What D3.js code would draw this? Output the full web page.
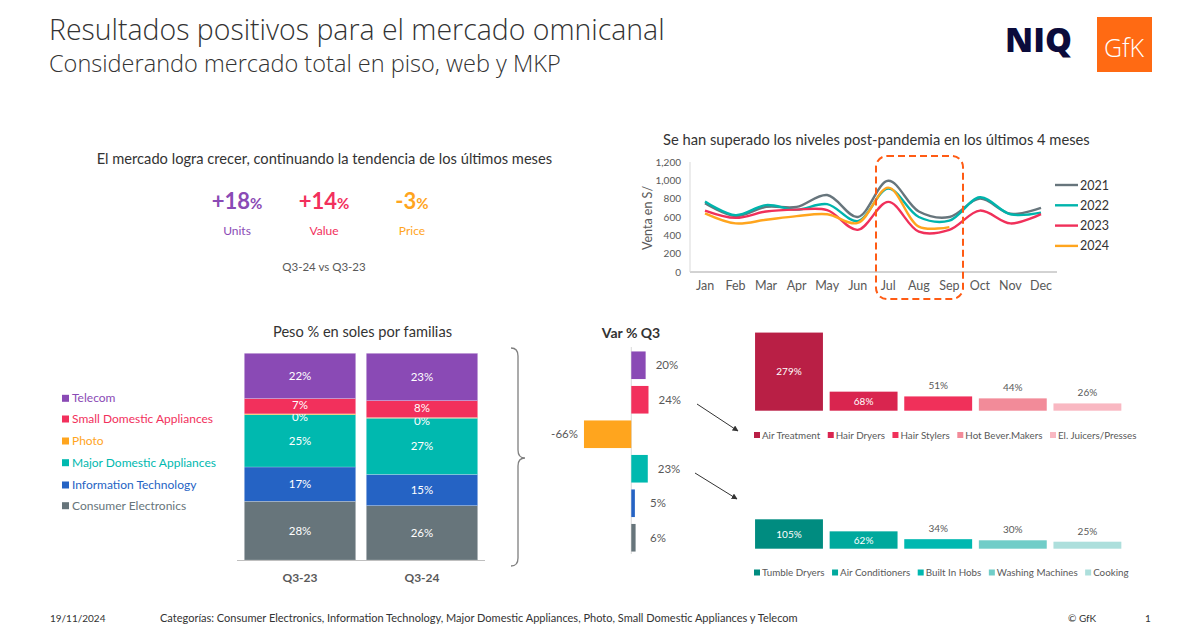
<!DOCTYPE html>
<html><head><meta charset="utf-8">
<script src="https://cdn.jsdelivr.net/npm/d3@7"></script>
<style>body{margin:0;background:#fff}svg{display:block}text{font-family:Lato,"Open Sans",sans-serif}</style>
</head><body><svg id="c" width="1200" height="628"></svg>
<script>
// ---------- DATA ----------
const months = ["Jan","Feb","Mar","Apr","May","Jun","Jul","Aug","Sep","Oct","Nov","Dec"];
const years = ["2021","2022","2023","2024"];
const sales2021 = [750,610,710,710,840,600,995,660,600,800,635,700];
const sales2022 = [770,620,730,680,740,555,910,600,560,815,630,648];
const sales2023 = [670,590,660,680,675,460,765,440,460,670,530,632];
const sales2024 = [640,530,570,610,630,535,920,495,490];
const yTicks = [0,200,400,600,800,1000,1200];

const kpiLabels = ["Units","Value","Price"];
const kpiValues = ["+18","+14","-3"];

const families = ["Telecom","Small Domestic Appliances","Photo","Major Domestic Appliances","Information Technology","Consumer Electronics"];
const periods = ["Q3-23","Q3-24"];
const shareQ323 = [21.9,7.4,0.4,25.3,16.6,28.4];
const shareQ324 = [22.9,8.2,0.3,27.2,15.1,26.3];
const varQ3 = [20,24,-66,23,5,6];

const sdaCats = ["Air Treatment","Hair Dryers","Hair Stylers","Hot Bever.Makers","El. Juicers/Presses"];
const sdaVals = [279,68,51,44,26];
const mdaCats = ["Tumble Dryers","Air Conditioners","Built In Hobs","Washing Machines","Cooking"];
const mdaVals = [105,62,34,30,25];

// ---------- STYLE ----------
const famColors = ["#8A4AB5","#F2305C","#FFA51E","#00B9AF","#2563C4","#67757B"];
const yearColors = ["#67757C","#00B4AC","#F0305A","#FFA51E"];
const kpiColors = ["#8A4AB5","#F2305C","#FFA51E"];
const sdaColors = ["#B91F45","#D9254F","#F0305A","#F28B99","#F9B8C2"];
const mdaColors = ["#008C80","#00A99D","#00B8B0","#70CDC8","#ADDFDC"];

const svg = d3.select("#c");
function fit(sel, w){ const l = sel.node().getComputedTextLength(); const fs = parseFloat(sel.attr("font-size")); sel.attr("font-size", fs*w/l); return sel; }

// ---------- HEADER ----------
fit(svg.append("text").attr("x",49).attr("y",40).attr("font-size",27).attr("font-weight",300).attr("fill","#333")
  .style("font-family","'Open Sans',Lato,sans-serif").text("Resultados positivos para el mercado omnicanal"),616);
fit(svg.append("text").attr("x",49).attr("y",72).attr("font-size",21).attr("font-weight",300).attr("fill","#333")
  .style("font-family","'Open Sans',Lato,sans-serif").text("Considerando mercado total en piso, web y MKP"),512);
// logos
fit(svg.append("text").attr("x",1005).attr("y",52).attr("font-size",30).attr("font-weight",800).attr("fill","#0B0B3B")
  .style("font-family","'Open Sans',Lato,sans-serif").text("NIQ"),67);
svg.append("rect").attr("x",1097).attr("y",17).attr("width",55).attr("height",55).attr("fill","#FF6A13");
svg.append("text").attr("x",1124).attr("y",57).attr("text-anchor","middle").attr("font-size",25).attr("font-weight",300)
  .attr("fill","#fff").style("font-family","'Open Sans',sans-serif").text("GfK");

// ---------- KPI ----------
fit(svg.append("text").attr("x",96.7).attr("y",164).attr("font-size",14).attr("fill","#333").text("El mercado logra crecer, continuando la tendencia de los últimos meses"),456);
const kx = [237,324,412];
kpiValues.forEach((v,i)=>{
  const t = svg.append("text").attr("x",kx[i]).attr("y",209).attr("text-anchor","middle").attr("fill",kpiColors[i]).attr("font-weight",700);
  t.append("tspan").attr("font-size",22).text(v);
  t.append("tspan").attr("font-size",15).text("%");
  svg.append("text").attr("x",kx[i]).attr("y",235).attr("text-anchor","middle").attr("font-size",12).attr("fill",kpiColors[i]).text(kpiLabels[i]);
});
svg.append("text").attr("x",324).attr("y",271).attr("text-anchor","middle").attr("font-size",11.5).attr("fill","#595959").text("Q3-24 vs Q3-23");

// ---------- LINE CHART ----------
fit(svg.append("text").attr("x",663).attr("y",145).attr("font-size",15).attr("fill","#333").text("Se han superado los niveles post-pandemia en los últimos 4 meses"),427);
const lx = d3.scalePoint().domain(months).range([705,1041]);
const ly = d3.scaleLinear().domain([0,1200]).range([272,162]);
svg.append("line").attr("x1",690).attr("x2",1057).attr("y1",272).attr("y2",272).attr("stroke","#a6a6a6");
svg.append("line").attr("x1",690).attr("x2",690).attr("y1",162).attr("y2",272).attr("stroke","#d9d9d9");
svg.append("g").selectAll("text").data(yTicks).join("text").attr("x",681).attr("y",d=>ly(d)+3.5).attr("text-anchor","end")
  .attr("font-size",10).attr("fill","#595959").text(d=>d3.format(",")(d));
svg.append("g").selectAll("text").data(months).join("text").attr("x",d=>lx(d)).attr("y",290).attr("text-anchor","middle")
  .attr("font-size",12.5).attr("fill","#595959").text(d=>d);
svg.append("text").attr("transform","translate(652,218) rotate(-90)").attr("text-anchor","middle").attr("font-size",12.5).attr("fill","#595959").text("Venta en S/");
const series = [sales2021,sales2022,sales2023,sales2024];
const line = d3.line().x((d,i)=>lx(months[i])).y(d=>ly(d)).curve(d3.curveCatmullRom.alpha(0.5));
series.forEach((s,i)=>{
  svg.append("path").attr("d",line(s)).attr("fill","none").attr("stroke",yearColors[i]).attr("stroke-width",2.4);
});
// highlight box
svg.append("rect").attr("x",876).attr("y",156).attr("width",87).attr("height",143).attr("rx",11)
  .attr("fill","none").attr("stroke","#FF5B14").attr("stroke-width",2).attr("stroke-dasharray","7,4");
years.forEach((y,i)=>{
  const yy = 185+i*20.3;
  svg.append("line").attr("x1",1055).attr("x2",1078).attr("y1",yy).attr("y2",yy).attr("stroke",yearColors[i]).attr("stroke-width",2.4);
  svg.append("text").attr("x",1080).attr("y",yy+4.5).attr("font-size",12.5).attr("fill","#333").text(y);
});

// ---------- STACKED BARS ----------
fit(svg.append("text").attr("x",273).attr("y",337).attr("font-size",14).attr("fill","#333").text("Peso % en soles por familias"),179);
const sx = d3.scaleBand().domain(periods).range([237,485]).paddingInner(0.087).paddingOuter(0.06);
const sy = d3.scaleLinear().domain([0,100]).range([560,353.3]);
const shares = [shareQ323, shareQ324];
periods.forEach((p,pi)=>{
  let cum = 0;
  const vals = shares[pi];
  const order = [5,4,3,2,1,0];
  order.forEach(fi=>{
    const v = vals[fi];
    const y0 = sy(cum), y1 = sy(cum+v);
    svg.append("rect").attr("x",sx(p)).attr("width",sx.bandwidth()).attr("y",y1).attr("height",y0-y1)
      .attr("fill",famColors[fi]).attr("stroke","#fff").attr("stroke-opacity",0.35).attr("stroke-width",0.6);
    const cy = (y0+y1)/2 + (fi===2 ? 3 : (fi===1 ? -1 : 0));
    svg.append("text").attr("x",sx(p)+sx.bandwidth()/2).attr("y",cy+4).attr("text-anchor","middle")
      .attr("font-size",11.5).attr("fill","#fff").text(Math.round(v)+"%");
    cum += v;
  });
  svg.append("text").attr("x",sx(p)+sx.bandwidth()/2).attr("y",582).attr("text-anchor","middle")
    .attr("font-size",12).attr("font-weight",700).attr("fill","#595959").text(p);
});
svg.append("line").attr("x1",237).attr("x2",485).attr("y1",560.5).attr("y2",560.5).attr("stroke","#bfbfbf");
const legY = [398.3,419,441,462.7,485,505.7];
families.forEach((f,i)=>{
  svg.append("rect").attr("x",62).attr("y",legY[i]-3.5).attr("width",7).attr("height",7).attr("fill",famColors[i]);
  svg.append("text").attr("x",72).attr("y",legY[i]+4).attr("font-size",12).attr("fill",famColors[i]).text(f);
});
// brace
svg.append("path").attr("d","M511,348 Q518,348 518,356 L518,450 Q518,458 525,458 Q518,458 518,466 L518,558 Q518,566 511,566")
  .attr("fill","none").attr("stroke","#7f7f7f").attr("stroke-width",1.3);

// ---------- VAR % Q3 ----------
svg.append("text").attr("x",631).attr("y",338).attr("text-anchor","middle").attr("font-size",14).attr("font-weight",700).attr("fill","#333").text("Var % Q3");
const vx = d3.scaleLinear().domain([-70,30]).range([581.1,652.8]);
const vy = d3.scaleBand().domain(families).range([348,555]).paddingInner(0.2).paddingOuter(0.1);
svg.append("line").attr("x1",vx(0)).attr("x2",vx(0)).attr("y1",347).attr("y2",554).attr("stroke","#d9d9d9");
families.forEach((f,i)=>{
  const v = varQ3[i];
  const x0 = vx(Math.min(0,v)), x1 = vx(Math.max(0,v));
  svg.append("rect").attr("x",x0).attr("width",x1-x0).attr("y",vy(f)).attr("height",vy.bandwidth()).attr("fill",famColors[i]);
  const cy = vy(f)+vy.bandwidth()/2+4;
  if(v>=0) svg.append("text").attr("x",Math.max(x1,640)+10).attr("y",cy).attr("font-size",11.5).attr("fill","#595959").text(v+"%");
  else svg.append("text").attr("x",x0-6).attr("y",cy).attr("text-anchor","end").attr("font-size",11.5).attr("fill","#595959").text(v+"%");
});
// arrows
const defs = svg.append("defs");
defs.append("marker").attr("id","ah").attr("viewBox","0 0 10 10").attr("refX",9).attr("refY",5).attr("markerWidth",6).attr("markerHeight",6).attr("orient","auto")
  .append("path").attr("d","M0,0 L10,5 L0,10 z").attr("fill","#333");
svg.append("line").attr("x1",697).attr("y1",404).attr("x2",738).attr("y2",431).attr("stroke","#333").attr("marker-end","url(#ah)");
svg.append("line").attr("x1",695).attr("y1",473).attr("x2",737).attr("y2",499).attr("stroke","#333").attr("marker-end","url(#ah)");

// ---------- BREAKDOWNS ----------
function breakdown(cats, vals, colors, base, legYpos){
  const bx = d3.scaleBand().domain(cats).range([751.7,1124.7]).paddingInner(0.09).paddingOuter(0.045);
  const by = d3.scaleLinear().domain([0,300]).range([base, base-84]);
  cats.forEach((c,i)=>{
    const v = vals[i];
    svg.append("rect").attr("x",bx(c)).attr("width",bx.bandwidth()).attr("y",by(v)).attr("height",base-by(v)).attr("fill",colors[i]);
    const cx = bx(c)+bx.bandwidth()/2;
    if(base-by(v) > 15) svg.append("text").attr("x",cx).attr("y",(by(v)+base)/2+3.5).attr("text-anchor","middle").attr("font-size",10).attr("fill","#fff").text(v+"%");
    else svg.append("text").attr("x",cx).attr("y",by(v)-7).attr("text-anchor","middle").attr("font-size",10).attr("fill","#595959").text(v+"%");
  });
  let x = 754;
  cats.forEach((c,i)=>{
    svg.append("rect").attr("x",x).attr("y",legYpos-3).attr("width",6).attr("height",6).attr("fill",colors[i]);
    const t = svg.append("text").attr("x",x+8).attr("y",legYpos+3.5).attr("font-size",9.8).attr("fill","#595959").text(c);
    x += 8 + t.node().getComputedTextLength() + 7.5;
  });
}
breakdown(sdaCats, sdaVals, sdaColors, 410.7, 435);
breakdown(mdaCats, mdaVals, mdaColors, 548.7, 572.5);

// ---------- FOOTER ----------
svg.append("text").attr("x",50).attr("y",622).attr("font-size",10).attr("fill","#333").text("19/11/2024");
fit(svg.append("text").attr("x",160).attr("y",622).attr("font-size",10).attr("fill","#333")
  .text("Categorías: Consumer Electronics, Information Technology, Major Domestic Appliances, Photo, Small Domestic Appliances y Telecom"),638);
svg.append("text").attr("x",1068).attr("y",622).attr("font-size",10).attr("fill","#333").text("© GfK");
svg.append("text").attr("x",1145).attr("y",622).attr("font-size",10).attr("fill","#333").text("1");
</script></body></html>
